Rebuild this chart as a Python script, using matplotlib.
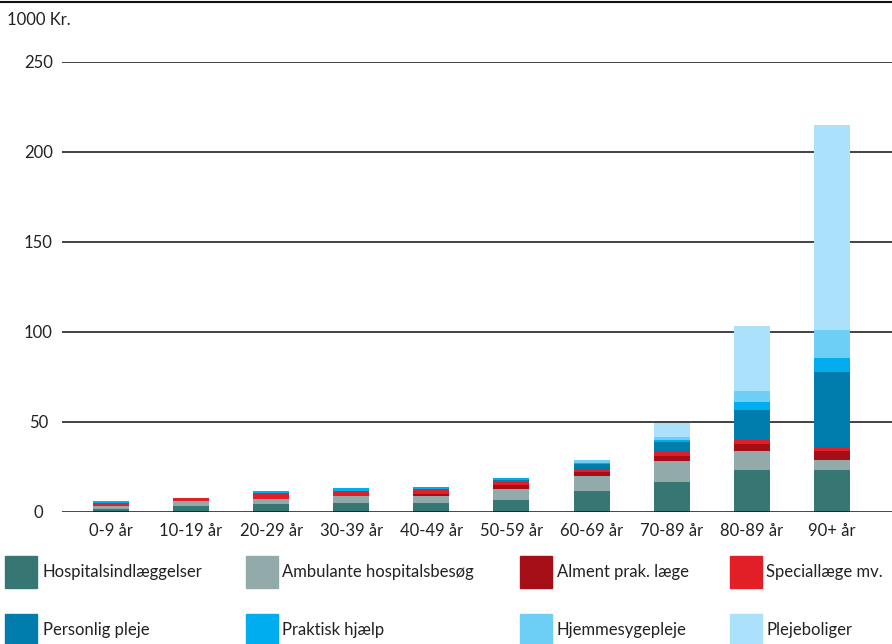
import numpy as np
import matplotlib
matplotlib.use("Agg")
from matplotlib import pyplot as plt
from matplotlib.patches import Rectangle
from matplotlib.lines import Line2D

plt.rcParams['font.family'] = ['Liberation Sans Narrow', 'Lato', 'DejaVu Sans']

categories = ['0-9 år', '10-19 år', '20-29 år', '30-39 år', '40-49 år',
              '50-59 år', '60-69 år', '70-89 år', '80-89 år', '90+ år']

hospital = [1.5, 3.1, 4.2, 4.8, 4.8, 6.4, 11.4, 16.4, 23.0, 23.0]
ambulant = [1.6, 2.8, 2.8, 3.9, 3.9, 6.1, 8.3, 11.6, 10.6, 5.6]
alment = [0.0, 0.0, 0.0, 0.0, 1.1, 2.2, 2.2, 2.8, 3.9, 5.0]
special = [1.7, 1.6, 3.3, 2.7, 2.5, 1.7, 1.5, 2.6, 2.4, 2.2]
personlig = [0.0, 0.0, 0.0, 0.0, 0.0, 1.1, 3.2, 5.2, 16.5, 41.7]
praktisk = [1.1, 0.0, 1.1, 1.6, 1.3, 1.1, 0.4, 1.3, 4.4, 7.8]
hjemme = [0.0, 0.0, 0.0, 0.0, 0.0, 0.0, 1.6, 1.5, 6.1, 15.5]
plejebolig = [0.0, 0.0, 0.0, 0.0, 0.0, 0.0, 0.0, 7.8, 36.1, 113.9]

series = [hospital, ambulant, alment, special, personlig, praktisk, hjemme, plejebolig]
labels = ['Hospitalsindlæggelser', 'Ambulante hospitalsbesøg', 'Alment prak. læge',
          'Speciallæge mv.', 'Personlig pleje', 'Praktisk hjælp',
          'Hjemmesygepleje', 'Plejeboliger']
colors = ['#367673', '#92AAAA', '#A60E17', '#E21E26',
          '#007DAD', '#00AEEF', '#6DCFF6', '#ABE1FA']

W, H = 892, 644
fig = plt.figure(figsize=(W / 100, H / 100), dpi=100)
ax = fig.add_axes([62 / W, (H - 511.5) / H, 1 - 62 / W, 450 / H])

x = np.arange(len(categories))
bottom = np.zeros(len(categories))
for vals, col, lab in zip(series, colors, labels):
    ax.bar(x, vals, 0.45, bottom=bottom, color=col, label=lab, zorder=3)
    bottom += np.array(vals)

ax.set_xlim(-0.61, 9.75)
ax.set_ylim(0, 250)
ax.set_yticks([0, 50, 100, 150, 200, 250])
for v in [50, 100, 150, 200, 250]:
    ax.axhline(v, color='#222222', lw=1.2, zorder=1)
ax.axhline(0, color='#111111', lw=1.8, zorder=4)
for s in ax.spines.values():
    s.set_visible(False)
ax.tick_params(axis='both', length=0, labelsize=12, colors='#222222')
ax.tick_params(axis='y', pad=17)
for t in ax.get_yticklabels():
    t.set_ha('center')
ax.set_xticks(x)
ax.set_xticklabels(categories)
ax.tick_params(axis='x', pad=8)

fig.text(7 / W, 1 - 20 / H, '1000 Kr.', fontsize=12, va='center', color='#222222')
fig.add_artist(Line2D([0, 1], [1 - 1.5 / H, 1 - 1.5 / H], color='#111111', lw=1.5))

# legend, placed by hand
patch_x = [5, 246, 520, 730]
text_x = [43, 282, 557, 766]
row_y = [572, 630]
for i, (lab, col) in enumerate(zip(labels, colors)):
    r, c = divmod(i, 4)
    fig.add_artist(Rectangle((patch_x[c] / W, 1 - (row_y[r] + 16) / H), 32 / W, 32 / H,
                             transform=fig.transFigure, color=col))
    fig.text(text_x[c] / W, 1 - row_y[r] / H, lab, fontsize=12, va='center',
             color='#222222')

fig.savefig('out.png', dpi=100)
